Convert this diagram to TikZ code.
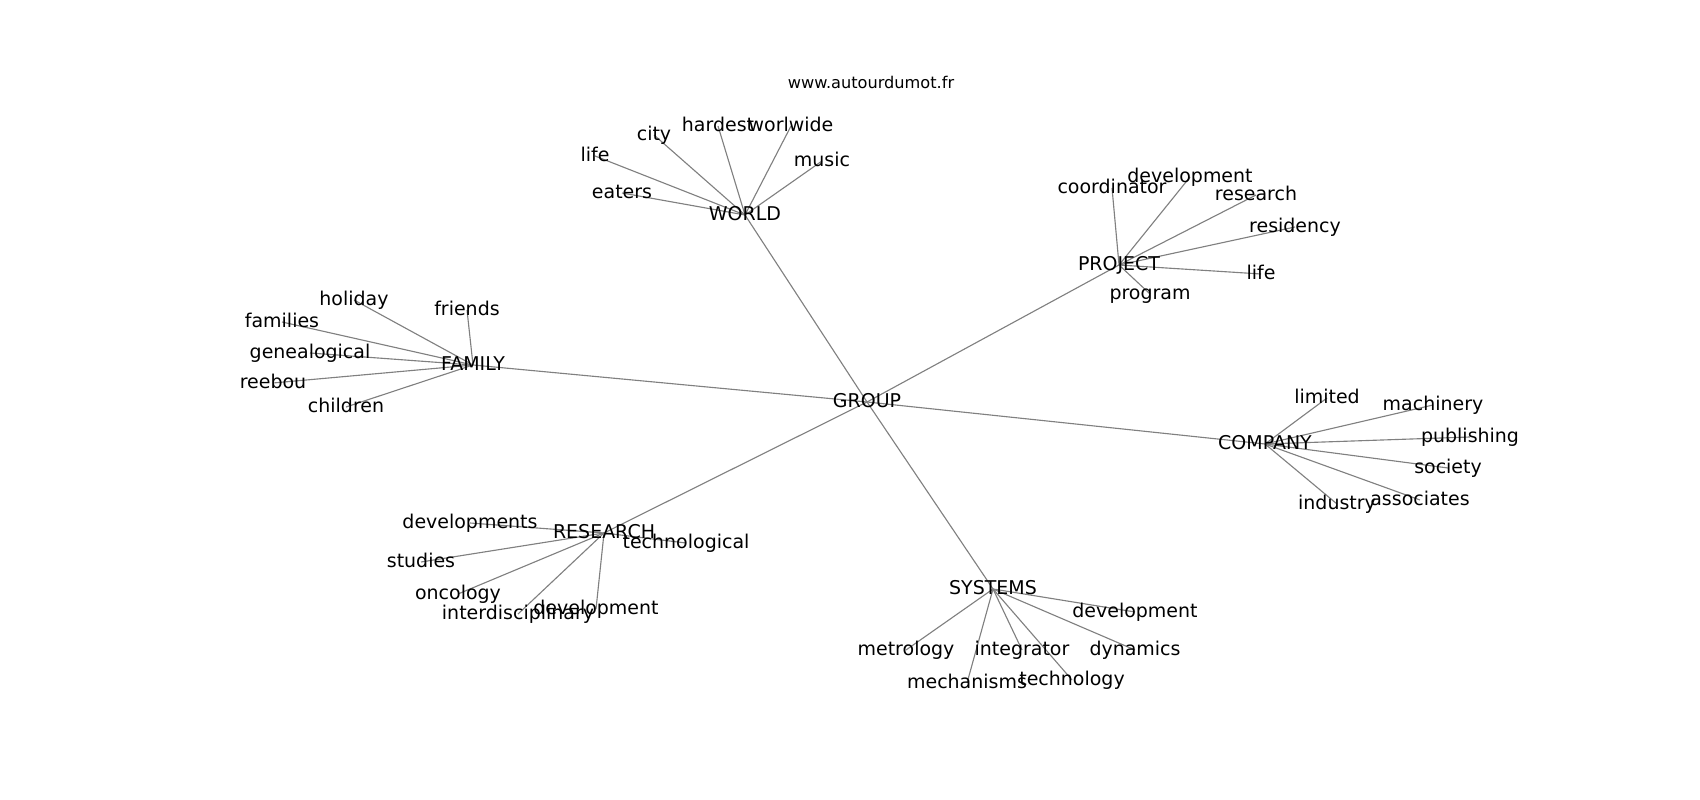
\documentclass[tikz,border=0pt]{standalone}
\usepackage{fontspec}
\setmainfont{DejaVu Sans}
\usetikzlibrary{backgrounds}

\definecolor{edgegray}{RGB}{128,128,128}

\begin{document}
\fontsize{5.4pt}{6pt}\selectfont
\begin{tikzpicture}[%
x=0.1mm, y=-0.1mm,
word/.style={anchor=mid, inner sep=0pt, font=\fontsize{5.4pt}{6pt}\selectfont},
link/.style={draw=edgegray, line width=0.32pt}
]
\useasboundingbox (0,0) rectangle (1700,800);

\node[font=\fontsize{4.6pt}{5pt}\selectfont, anchor=mid] (site) at (871,83) {www.autourdumot.fr};

\node[word] (group) at (867,402) {GROUP};

% WORLD
\node[word] (world) at (745,215) {WORLD};
\node[word] (wlife) at (595,156) {life};
\node[word] (weaters) at (622,193) {eaters};
\node[word] (wcity) at (654,135) {city};
\node[word] (whardest) at (718,126) {hardest};
\node[word] (wworlwide) at (791,126) {worlwide};
\node[word] (wmusic) at (822,161) {music};

% PROJECT
\node[word] (project) at (1119,265) {PROJECT};
\node[word] (pcoord) at (1112,188) {coordinator};
\node[word] (pdev) at (1190,177) {development};
\node[word] (presearch) at (1256,195) {research};
\node[word] (presid) at (1295,227) {residency};
\node[word] (plife) at (1261,274) {life};
\node[word] (pprogram) at (1150,294) {program};

% FAMILY
\node[word] (family) at (473,365) {FAMILY};
\node[word] (fholiday) at (354,300) {holiday};
\node[word] (ffriends) at (467,310) {friends};
\node[word] (ffamilies) at (282,322) {families};
\node[word] (fgenea) at (310,353) {genealogical};
\node[word] (freebou) at (273,383) {reebou};
\node[word] (fchildren) at (346,407) {children};

% COMPANY
\node[word] (company) at (1265,444) {COMPANY};
\node[word] (climited) at (1327,398) {limited};
\node[word] (cmachin) at (1433,405) {machinery};
\node[word] (cpublish) at (1470,437) {publishing};
\node[word] (csociety) at (1448,468) {society};
\node[word] (cindustry) at (1337,504) {industry};
\node[word] (cassoc) at (1420,500) {associates};

% RESEARCH
\node[word] (research) at (604,533) {RESEARCH};
\node[word] (rdevs) at (470,523) {developments};
\node[word] (rtechno) at (686,543) {technological};
\node[word] (rstudies) at (421,562) {studies};
\node[word] (roncology) at (458,594) {oncology};
\node[word] (rinter) at (518,614) {interdisciplinary};
\node[word] (rdev) at (596,609) {development};

% SYSTEMS
\node[word] (systems) at (993,589) {SYSTEMS};
\node[word] (sdev) at (1135,612) {development};
\node[word] (smetro) at (906,650) {metrology};
\node[word] (sinteg) at (1022,650) {integrator};
\node[word] (sdyn) at (1135,650) {dynamics};
\node[word] (smecha) at (967,683) {mechanisms};
\node[word] (stechno) at (1072,680) {technology};

\begin{scope}[on background layer]
% hub to groups
\foreach \n in {world,project,family,company,research,systems}
  \path[link] (group.mid) -- (\n.mid);
\foreach \n in {wlife,weaters,wcity,whardest,wworlwide,wmusic}
  \path[link] (world.mid) -- (\n.mid);
\foreach \n in {pcoord,pdev,presearch,presid,plife,pprogram}
  \path[link] (project.mid) -- (\n.mid);
\foreach \n in {fholiday,ffriends,ffamilies,fgenea,freebou,fchildren}
  \path[link] (family.mid) -- (\n.mid);
\foreach \n in {climited,cmachin,cpublish,csociety,cindustry,cassoc}
  \path[link] (company.mid) -- (\n.mid);
\foreach \n in {rdevs,rtechno,rstudies,roncology,rinter,rdev}
  \path[link] (research.mid) -- (\n.mid);
\foreach \n in {sdev,smetro,sinteg,sdyn,smecha,stechno}
  \path[link] (systems.mid) -- (\n.mid);
\end{scope}

\end{tikzpicture}
\end{document}
